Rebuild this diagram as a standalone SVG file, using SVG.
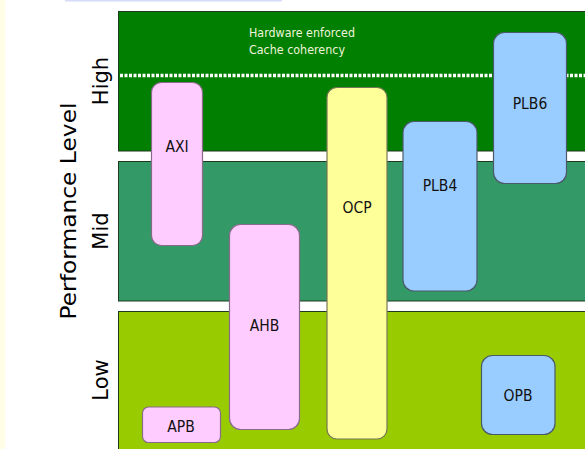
<svg xmlns="http://www.w3.org/2000/svg" width="585" height="449" viewBox="0 0 585 449">
<style>
.band{stroke:#1e3a1e;stroke-width:1}
.node rect{stroke-width:1.2}
.pink{fill:#ffccff;stroke:#8a6a8a}
.yellow{fill:#ffff99;stroke:#777755}
.blue{fill:#99ccff;stroke:#4a5a6a}
.lbl{font-family:"DejaVu Sans Condensed","DejaVu Sans","Liberation Sans",sans-serif;font-stretch:condensed;font-size:15.5px;fill:#111;text-anchor:middle}
.axis{font-family:"DejaVu Sans","Liberation Sans",sans-serif;font-size:21px;fill:#000;text-anchor:middle}
.note{font-family:"DejaVu Sans","Liberation Sans",sans-serif;font-size:11.5px;fill:#f0f4dc}
</style>
<rect x="0" y="0" width="585" height="449" fill="#ffffff"/>
<rect x="0" y="0" width="5" height="449" fill="#fffde6"/>
<rect x="65" y="0" width="217" height="1.5" fill="#d4dcf8"/>
<g id="bands">
<rect class="band" x="118.5" y="11.5" width="470" height="139.5" fill="#007f00"/>
<rect class="band" x="118.5" y="161.5" width="470" height="139.5" fill="#339966"/>
<rect class="band" x="118.5" y="311.5" width="470" height="145" fill="#99cc00"/>
<line x1="120" y1="75.5" x2="585" y2="75.5" stroke="#ffffff" stroke-width="3.5" stroke-dasharray="3 1.5"/>
<text class="note" x="249" y="37" textLength="106" lengthAdjust="spacingAndGlyphs">Hardware enforced</text>
<text class="note" x="249" y="54" textLength="96" lengthAdjust="spacingAndGlyphs">Cache coherency</text>
</g>
<g id="axis">
<text class="axis" transform="translate(76,211) rotate(-90)" textLength="217" lengthAdjust="spacingAndGlyphs">Performance Level</text>
<text class="axis" transform="translate(107.5,81) rotate(-90)">High</text>
<text class="axis" transform="translate(107.5,231) rotate(-90)">Mid</text>
<text class="axis" transform="translate(107.5,380) rotate(-90)">Low</text>
</g>
<g id="connectors"></g>
<g id="AXI" class="node"><rect class="pink" x="151.5" y="82.5" width="51" height="163" rx="10"/><text class="lbl" x="177" y="152">AXI</text></g>
<g id="AHB" class="node"><rect class="pink" x="229.5" y="224.5" width="70" height="205" rx="11"/><text class="lbl" x="264.5" y="331">AHB</text></g>
<g id="OCP" class="node"><rect class="yellow" x="327" y="87.5" width="60" height="351.5" rx="10"/><text class="lbl" x="357" y="213">OCP</text></g>
<g id="PLB4" class="node"><rect class="blue" x="403" y="121.5" width="74" height="169.5" rx="11"/><text class="lbl" x="440" y="191">PLB4</text></g>
<g id="PLB6" class="node"><rect class="blue" x="493.5" y="32.5" width="73" height="151" rx="11"/><text class="lbl" x="530" y="109">PLB6</text></g>
<g id="OPB" class="node"><rect class="blue" x="481.5" y="355.5" width="73.5" height="79" rx="11"/><text class="lbl" x="518" y="401">OPB</text></g>
<g id="APB" class="node"><rect class="pink" x="142.5" y="407" width="78" height="35.5" rx="6"/><text class="lbl" x="181" y="432">APB</text></g>
</svg>
